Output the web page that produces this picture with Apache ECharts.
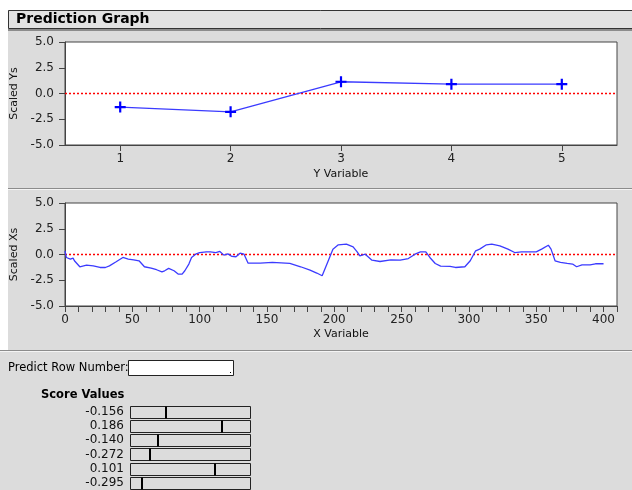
<!DOCTYPE html>
<html>
<head>
<meta charset="utf-8">
<title>Prediction Graph</title>
<script src="https://cdn.jsdelivr.net/npm/echarts@6/dist/echarts.min.js"></script>
<style>
html, body { margin: 0; padding: 0; background: #fff; }
#chart { width: 632px; height: 490px; }
</style>
</head>
<body>
<div id="chart"></div>
<script>
// top plot: scaled Ys per Y variable
var yVariable = [1, 2, 3, 4, 5];
var scaledYs = [-1.32, -1.78, 1.14, 0.91, 0.91];

// bottom plot: scaled Xs along X variable
var xVariable = [0, 1, 4, 6, 7, 11, 16, 21, 26, 30, 33, 38, 43, 47, 51, 55, 59, 64, 68, 72,
  74, 77, 81, 84, 87, 89, 92, 94, 97, 100, 105, 108, 112, 115, 118, 121, 124, 127, 130, 133,
  136, 145, 154, 167, 175, 182, 187, 191, 192, 196, 199, 203, 209, 214, 217, 219, 223, 228, 234, 242,
  249, 255, 260, 264, 268, 271, 275, 279, 286, 290, 297, 301, 305, 308, 313, 317, 323, 329, 334, 339,
  346, 350, 354, 359, 361, 364, 368, 373, 377, 380, 384, 390, 394, 400];
var scaledXs = [0.36, -0.29, -0.45, -0.35, -0.61, -1.19, -1.03, -1.1, -1.26, -1.26, -1.1, -0.71, -0.29, -0.45, -0.52, -0.61, -1.19, -1.32, -1.48, -1.68,
  -1.58, -1.35, -1.58, -1.9, -1.9, -1.58, -0.93, -0.29, 0.03, 0.19, 0.26, 0.26, 0.19, 0.3, -0.06, 0.06, -0.19, -0.22, 0.13, 0.03,
  -0.84, -0.84, -0.77, -0.87, -1.19, -1.51, -1.8, -2.06, -1.9, -0.45, 0.52, 0.94, 1.0, 0.74, 0.26, -0.13, 0.03, -0.55, -0.68, -0.52,
  -0.55, -0.39, 0.03, 0.26, 0.26, -0.29, -0.87, -1.13, -1.16, -1.26, -1.19, -0.61, 0.36, 0.52, 0.94, 1.0, 0.84, 0.52, 0.19, 0.26,
  0.26, 0.26, 0.52, 0.9, 0.52, -0.61, -0.77, -0.87, -0.93, -1.19, -1.0, -1.0, -0.9, -0.9];

// score values and where each slider marker sits (fraction of slider)
var scoreLabels = ['-0.156', '0.186', '-0.140', '-0.272', '0.101', '-0.295'];
var scorePos = [0.30, 0.77, 0.23, 0.165, 0.71, 0.10];

var FONT = 'DejaVu Sans';
var RED = '#ff0000';
var plusPath = 'path://M4,0h2v4h4v2h-4v4h-2v-4h-4v-2h4z';

// dotted red reference line at y = 0
function zeroSeries(xIdx, yIdx, x0, x1) {
  return {
    type: 'line', xAxisIndex: xIdx, yAxisIndex: yIdx, silent: true, z: 1,
    data: [[x0, 0], [x1, 0]], symbol: 'none',
    color: RED,
    lineStyle: { color: RED, type: [2, 2], width: 1.5, opacity: 1 }
  };
}

function valueYAxis(idx, name) {
  return {
    type: 'value', gridIndex: idx, min: -5, max: 5, interval: 2.5,
    name: name, nameLocation: 'middle', nameGap: 40,
    nameTextStyle: { fontFamily: FONT, fontSize: 11, color: '#111' },
    axisLine: { show: true, onZero: false, lineStyle: { color: '#444' } },
    axisTick: { show: true, length: 6, lineStyle: { color: '#444' } },
    axisLabel: { margin: 11, fontFamily: FONT, fontSize: 12, color: '#222',
      formatter: function (v) { return v.toFixed(1); } },
    splitLine: { show: false }
  };
}

var chart = echarts.init(document.getElementById('chart'), null, { renderer: 'canvas' });

var option = {
  backgroundColor: '#dcdcdc',
  animation: false,
  graphic: [
    { type: 'rect', shape: { x: 0, y: 0, width: 632, height: 10 }, style: { fill: '#fff' } },
    { type: 'rect', shape: { x: 0, y: 10, width: 8, height: 341 }, style: { fill: '#fff' } },
    { type: 'rect', shape: { x: 8.5, y: 10.5, width: 640, height: 18 }, style: { fill: '#e2e2e2', stroke: '#333', lineWidth: 1 } },
    { type: 'text', x: 16, y: 19, style: { text: 'Prediction Graph', fontFamily: FONT, fontWeight: 'bold', fontSize: 14, fill: '#000', verticalAlign: 'middle' } },
    { type: 'rect', shape: { x: 8, y: 29, width: 624, height: 2 }, style: { fill: '#8c8c8c' } },
    { type: 'rect', shape: { x: 8, y: 188, width: 624, height: 1 }, style: { fill: '#8c8c8c' } },
    { type: 'rect', shape: { x: 8, y: 189, width: 624, height: 1 }, style: { fill: '#f4f4f4' } },
    { type: 'rect', shape: { x: 0, y: 350, width: 632, height: 1 }, style: { fill: '#8c8c8c' } },
    { type: 'rect', shape: { x: 0, y: 351, width: 632, height: 1 }, style: { fill: '#f4f4f4' } },
    { type: 'text', x: 8, y: 368, style: { text: 'Predict Row Number:', fontFamily: FONT, fontSize: 11.5, fill: '#000', verticalAlign: 'middle' } },
    { type: 'rect', shape: { x: 128.5, y: 360.5, width: 105, height: 15 }, style: { fill: '#fff', stroke: '#222', lineWidth: 1 } },
    { type: 'rect', shape: { x: 230, y: 372, width: 1, height: 1 }, style: { fill: '#000' } },
    { type: 'text', x: 41, y: 395, style: { text: 'Score Values', fontFamily: FONT, fontWeight: 'bold', fontSize: 11.5, fill: '#000', verticalAlign: 'middle' } }
  ],
  grid: [
    { left: 65, top: 42, width: 552, height: 103, show: true, backgroundColor: '#fff', borderColor: '#444', borderWidth: 1 },
    { left: 65, top: 203, width: 552, height: 103, show: true, backgroundColor: '#fff', borderColor: '#444', borderWidth: 1 },
    { left: 130, top: 404.5, width: 120, height: 88.2 }
  ],
  xAxis: [
    {
      type: 'value', gridIndex: 0, min: 0.5, max: 5.5,
      name: 'Y Variable', nameLocation: 'middle', nameGap: 24,
      nameTextStyle: { fontFamily: FONT, fontSize: 11, color: '#111' },
      axisLine: { onZero: false, lineStyle: { color: '#444' } },
      axisTick: { length: 6, customValues: yVariable, lineStyle: { color: '#444' } },
      axisLabel: { margin: 8, customValues: yVariable, fontFamily: FONT, fontSize: 12, color: '#222' },
      splitLine: { show: false }
    },
    {
      type: 'value', gridIndex: 1, min: 0, max: 410, interval: 10,
      name: 'X Variable', nameLocation: 'middle', nameGap: 23,
      nameTextStyle: { fontFamily: FONT, fontSize: 11, color: '#111' },
      axisLine: { onZero: false, lineStyle: { color: '#444' } },
      axisTick: { length: 6, lineStyle: { color: '#444' } },
      axisLabel: { margin: 8, fontFamily: FONT, fontSize: 12, color: '#222',
        formatter: function (v) { return v % 50 === 0 && v <= 400 ? String(v) : ''; } },
      splitLine: { show: false }
    },
    { type: 'value', gridIndex: 2, min: 0, max: 1, show: false }
  ],
  yAxis: [
    valueYAxis(0, 'Scaled Ys'),
    valueYAxis(1, 'Scaled Xs'),
    {
      type: 'category', gridIndex: 2, data: scoreLabels, inverse: true,
      axisLine: { show: false }, axisTick: { show: false },
      axisLabel: { interval: 0, margin: 6, fontFamily: FONT, fontSize: 12, color: '#111' }
    }
  ],
  series: [
    zeroSeries(0, 0, 0.5, 5.5),
    zeroSeries(1, 1, 0, 410),
    {
      type: 'line', xAxisIndex: 0, yAxisIndex: 0, z: 3,
      data: yVariable.map(function (x, i) { return [x, scaledYs[i]]; }),
      symbol: plusPath, symbolSize: 11, showAllSymbol: true,
      lineStyle: { color: '#3b3bff', width: 1.3 },
      itemStyle: { color: '#0000ff', borderWidth: 0 }
    },
    {
      type: 'line', xAxisIndex: 1, yAxisIndex: 1, z: 3,
      data: xVariable.map(function (x, i) { return [x, scaledXs[i]]; }),
      symbol: 'none',
      lineStyle: { color: '#3b3bff', width: 1.3 }
    },
    {
      type: 'custom', xAxisIndex: 2, yAxisIndex: 2,
      data: scorePos.map(function (p, i) { return [i, p]; }),
      encode: { x: 1, y: 0 },
      renderItem: function (params, api) {
        var row = api.value(0);
        var pos = api.value(1);
        var l = api.coord([0, row]);
        var r = api.coord([1, row]);
        var m = api.coord([pos, row]);
        var h = 12;
        var top = Math.round(l[1] - h / 2) + 0.5;
        return {
          type: 'group',
          children: [
            { type: 'rect', shape: { x: Math.round(l[0]) + 0.5, y: top, width: Math.round(r[0] - l[0]), height: h },
              style: { fill: '#dcdcdc', stroke: '#222', lineWidth: 1 } },
            { type: 'rect', shape: { x: Math.round(m[0]) - 1, y: top, width: 2, height: h },
              style: { fill: '#000' } }
          ]
        };
      }
    }
  ]
};

chart.setOption(option);
window.addEventListener('resize', function () { chart.resize(); });
</script>
</body>
</html>
